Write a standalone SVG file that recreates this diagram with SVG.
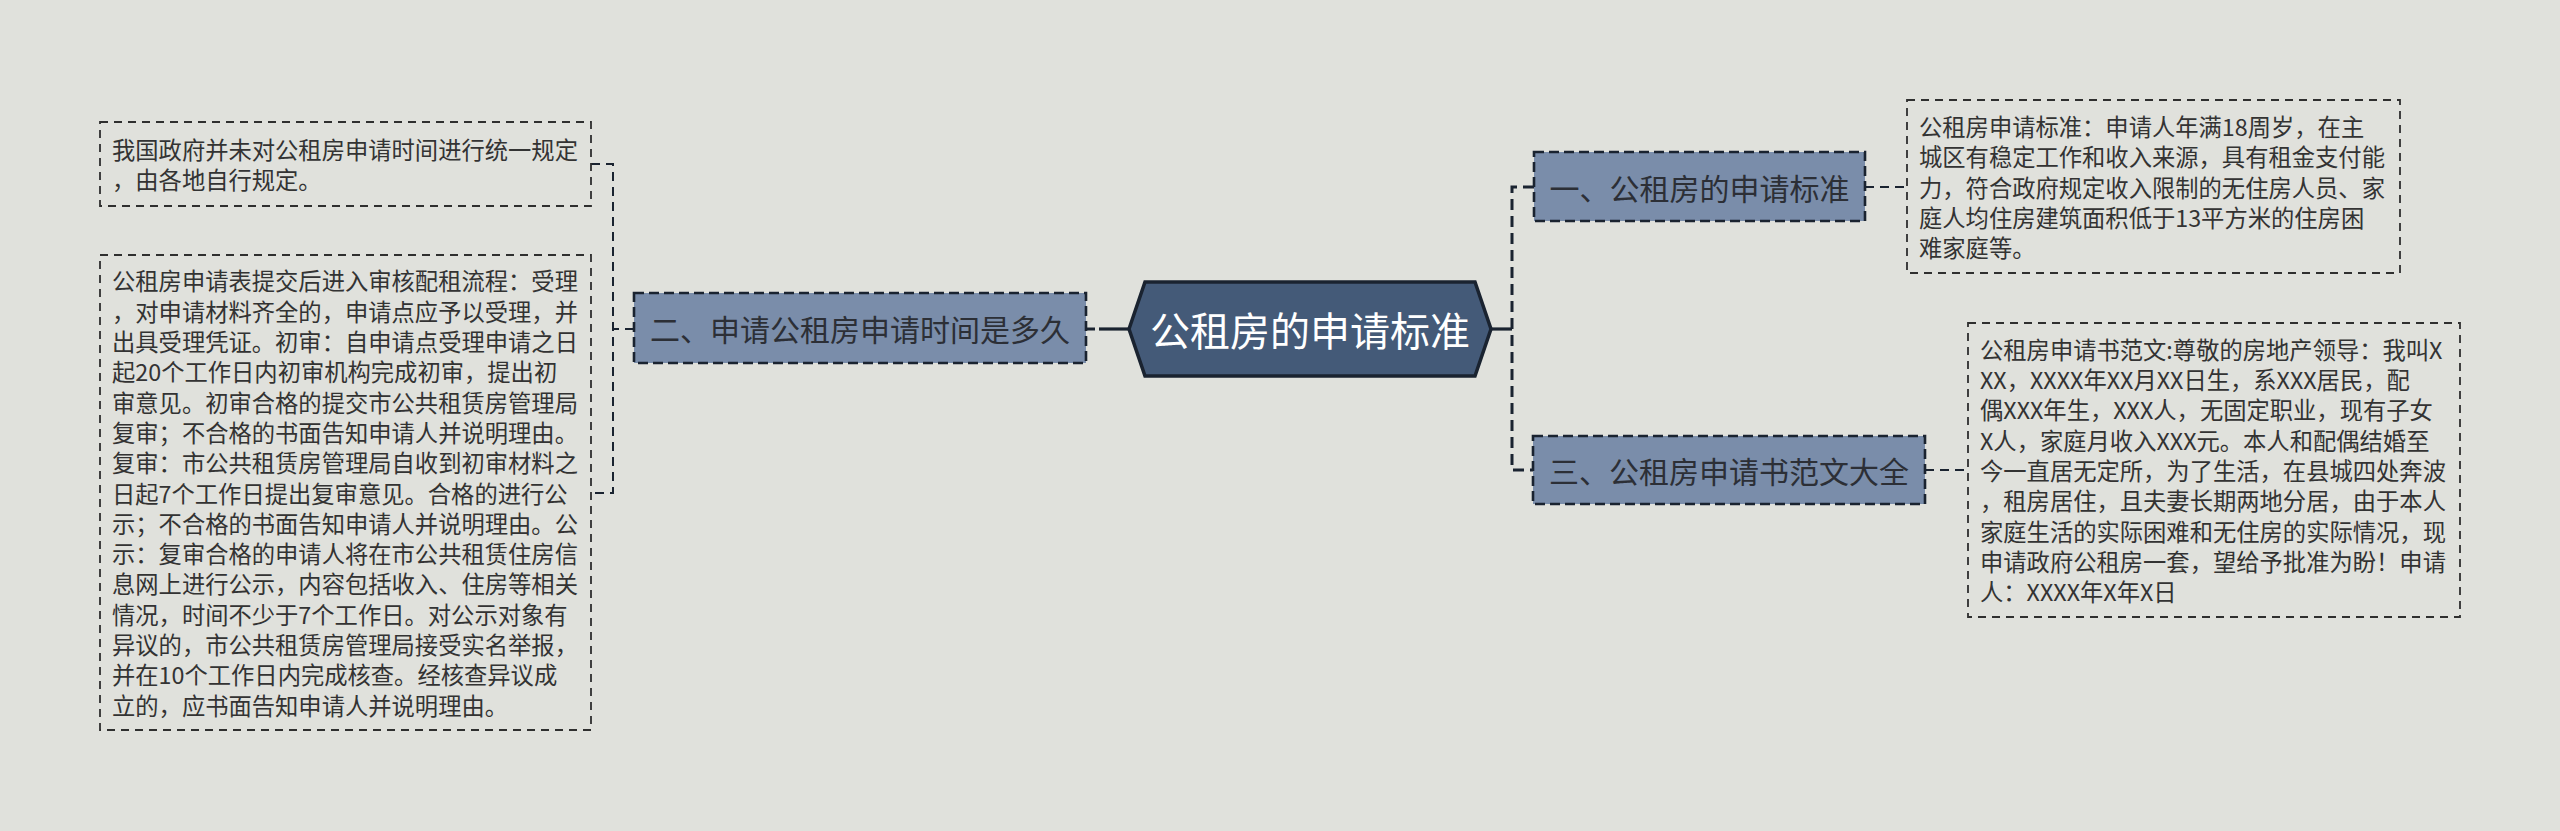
<svg xmlns="http://www.w3.org/2000/svg" width="2560" height="831" viewBox="0 0 2560 831">
<style>
.box{fill:none;stroke:#2f2f2f;stroke-width:1.8;stroke-dasharray:8 6}
.node{fill:#7a8daa;stroke:#1a2330;stroke-width:2.6;stroke-dasharray:10 5}
.t{font-family:"Noto Sans CJK SC","Noto Sans",sans-serif;font-size:23.3px;fill:#333333;dominant-baseline:central}
.nt{font-family:"Noto Sans CJK SC","Noto Sans",sans-serif;font-size:30px;fill:#2c2f36;dominant-baseline:central;text-anchor:middle}
.ct{font-family:"Noto Sans CJK SC","Noto Sans",sans-serif;font-size:40px;fill:#ffffff;dominant-baseline:central;text-anchor:middle}
.c1{fill:none;stroke:#1a2330;stroke-width:3;stroke-dasharray:11 6}
.c2{fill:none;stroke:#1a2330;stroke-width:2;stroke-dasharray:9 6}
.cs{fill:none;stroke:#1a2330;stroke-width:3.2}
</style>
<rect x="0" y="0" width="2560" height="831" fill="#e0e1dc"/>
<g id="connectors">
<path class="cs" d="M1129,329 H1099"/>
<path class="c1" d="M1095,329 H1086" stroke-dasharray="7 4"/>
<path class="cs" d="M1491,329 H1512"/>
<path class="c1" d="M1534,187 H1512 V470 H1533"/>
<path class="c2" d="M634,329 H613"/>
<path class="c2" d="M591,164 H613 V493 H591"/>
<path class="c2" d="M1865,187 H1907"/>
<path class="c2" d="M1925,470 H1968"/>
</g>
<g id="center">
<polygon points="1129,329 1145,282 1475,282 1491,329 1475,376 1145,376" fill="#445a78" stroke="#1a2330" stroke-width="3.5"/>
<text class="ct" x="1310" y="329">公租房的申请标准</text>
</g>
<g id="n2">
<rect class="node" x="634" y="293" width="452" height="70"/>
<text class="nt" x="860" y="328">二、申请公租房申请时间是多久</text>
</g>
<g id="n1">
<rect class="node" x="1534" y="152" width="331" height="69"/>
<text class="nt" x="1699.5" y="187">一、公租房的申请标准</text>
</g>
<g id="n3">
<rect class="node" x="1533" y="436" width="392" height="68"/>
<text class="nt" x="1729" y="470">三、公租房申请书范文大全</text>
</g>
<g id="box-l1">
<rect class="box" x="100" y="122" width="491" height="84"/>
<text class="t"><tspan x="112" y="149">我国政府并未对公租房申请时间进行统一规定</tspan><tspan x="112" y="179.3">，由各地自行规定。</tspan></text>
</g>
<g id="box-l2">
<rect class="box" x="100" y="255" width="491" height="475"/>
<text class="t">
<tspan x="112" y="280.4">公租房申请表提交后进入审核配租流程：受理</tspan>
<tspan x="112" y="310.7">，对申请材料齐全的，申请点应予以受理，并</tspan>
<tspan x="112" y="341">出具受理凭证。初审：自申请点受理申请之日</tspan>
<tspan x="112" y="371.3">起20个工作日内初审机构完成初审，提出初</tspan>
<tspan x="112" y="401.6">审意见。初审合格的提交市公共租赁房管理局</tspan>
<tspan x="112" y="431.9">复审；不合格的书面告知申请人并说明理由。</tspan>
<tspan x="112" y="462.2">复审：市公共租赁房管理局自收到初审材料之</tspan>
<tspan x="112" y="492.5">日起7个工作日提出复审意见。合格的进行公</tspan>
<tspan x="112" y="522.8">示；不合格的书面告知申请人并说明理由。公</tspan>
<tspan x="112" y="553.1">示：复审合格的申请人将在市公共租赁住房信</tspan>
<tspan x="112" y="583.4">息网上进行公示，内容包括收入、住房等相关</tspan>
<tspan x="112" y="613.7">情况，时间不少于7个工作日。对公示对象有</tspan>
<tspan x="112" y="644">异议的，市公共租赁房管理局接受实名举报，</tspan>
<tspan x="112" y="674.3">并在10个工作日内完成核查。经核查异议成</tspan>
<tspan x="112" y="704.6">立的，应书面告知申请人并说明理由。</tspan>
</text>
</g>
<g id="box-r1">
<rect class="box" x="1907" y="100" width="493" height="173"/>
<text class="t">
<tspan x="1919" y="125.9">公租房申请标准：申请人年满18周岁，在主</tspan>
<tspan x="1919" y="156.2">城区有稳定工作和收入来源，具有租金支付能</tspan>
<tspan x="1919" y="186.5">力，符合政府规定收入限制的无住房人员、家</tspan>
<tspan x="1919" y="216.8">庭人均住房建筑面积低于13平方米的住房困</tspan>
<tspan x="1919" y="247.1">难家庭等。</tspan>
</text>
</g>
<g id="box-r3">
<rect class="box" x="1968" y="323" width="492" height="294"/>
<text class="t">
<tspan x="1980" y="348.8">公租房申请书范文:尊敬的房地产领导：我叫X</tspan>
<tspan x="1980" y="379.1">XX，XXXX年XX月XX日生，系XXX居民，配</tspan>
<tspan x="1980" y="409.4">偶XXX年生，XXX人，无固定职业，现有子女</tspan>
<tspan x="1980" y="439.7">X人，家庭月收入XXX元。本人和配偶结婚至</tspan>
<tspan x="1980" y="470">今一直居无定所，为了生活，在县城四处奔波</tspan>
<tspan x="1980" y="500.3">，租房居住，且夫妻长期两地分居，由于本人</tspan>
<tspan x="1980" y="530.6">家庭生活的实际困难和无住房的实际情况，现</tspan>
<tspan x="1980" y="560.9">申请政府公租房一套，望给予批准为盼！申请</tspan>
<tspan x="1980" y="591.2">人：XXXX年X年X日</tspan>
</text>
</g>
</svg>
